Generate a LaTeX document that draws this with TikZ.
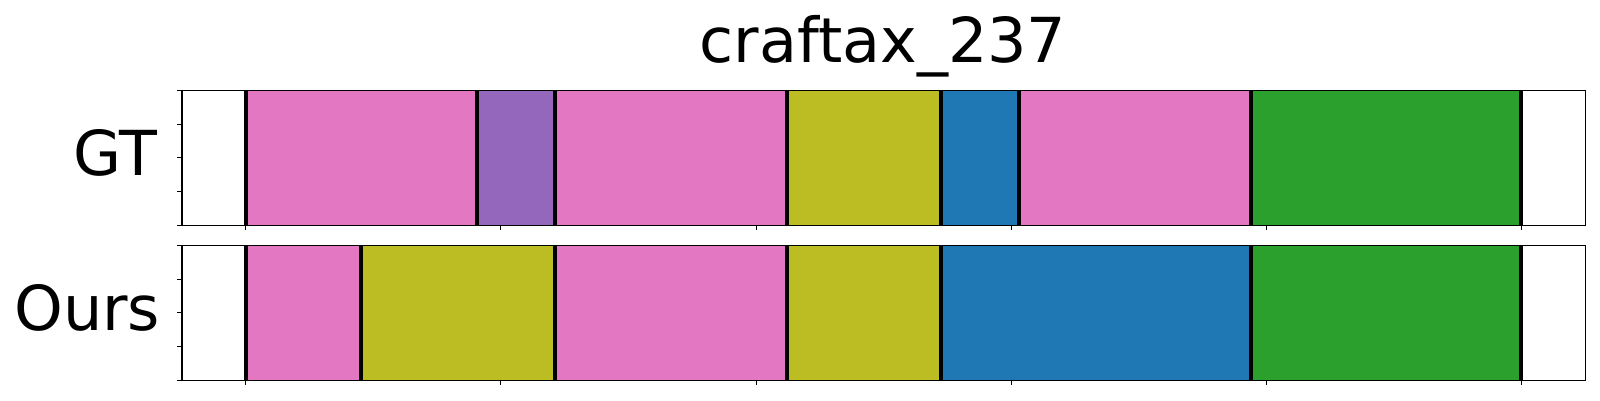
\documentclass[tikz,border=0pt]{standalone}
\usepackage{fontspec}
\setmainfont{DejaVu Sans}
\definecolor{tabpink}{HTML}{E377C2}
\definecolor{tabpurple}{HTML}{9467BD}
\definecolor{tabolive}{HTML}{BCBD22}
\definecolor{tabblue}{HTML}{1F77B4}
\definecolor{tabgreen}{HTML}{2CA02C}
\tikzset{
  bigtext/.style={inner sep=0, font=\fontsize{15.5pt}{18pt}\selectfont},
  frame/.style={draw=black, line width=0.33pt},
  cut/.style={draw=black, line width=1pt},
  tick/.style={draw=black, line width=0.25pt}
}
\begin{document}
\begin{tikzpicture}[x=0.25pt, y=-0.25pt]
        \useasboundingbox (0,0) rectangle (1600,400);

        % nodes
        \node(title) [bigtext, anchor=base] at (883, 62.3) {craftax\_237};
        \node(gt) [bigtext, anchor=base east] at (158.5, 175) {GT};
        \node(ours) [bigtext, anchor=base east] at (161, 330) {Ours};

        % segments GT
        \foreach \a/\b/\c in {245.8/477/tabpink, 477/555/tabpurple, 555/786.5/tabpink,
                786.5/940.8/tabolive, 940.8/1018.9/tabblue, 1018.9/1250.7/tabpink,
                1250.7/1520.8/tabgreen}
            \fill[\c] (\a, 90.3) rectangle (\b, 225.3);
        % segments Ours
        \foreach \a/\b/\c in {245.8/361/tabpink, 361/555/tabolive, 555/786.5/tabpink,
                786.5/940.8/tabolive, 940.8/1250.7/tabblue, 1250.7/1520.8/tabgreen}
            \fill[\c] (\a, 245.3) rectangle (\b, 380.3);

        % boundaries
        \foreach \x in {245.8, 477, 555, 786.5, 940.8, 1018.9, 1250.7, 1520.8}
            \draw[cut] (\x, 90.3) -- (\x, 225.3);
        \foreach \x in {245.8, 361, 555, 786.5, 940.8, 1250.7, 1520.8}
            \draw[cut] (\x, 245.3) -- (\x, 380.3);

        % axes
        \draw[frame] (182, 90.3) rectangle (1585.6, 225.3);
        \draw[frame] (182, 245.3) rectangle (1585.6, 380.3);
        \foreach \k in {0,...,5} {
            \draw[tick] ({245.8+255.1*\k}, 225.3) -- ++(0, 5);
            \draw[tick] ({245.8+255.1*\k}, 380.3) -- ++(0, 5);
        }
        \foreach \k in {0,...,4} {
            \draw[tick] (182, {90.3+33.75*\k}) -- ++(-5, 0);
            \draw[tick] (182, {245.3+33.75*\k}) -- ++(-5, 0);
        }

    \end{tikzpicture}
\end{document}
